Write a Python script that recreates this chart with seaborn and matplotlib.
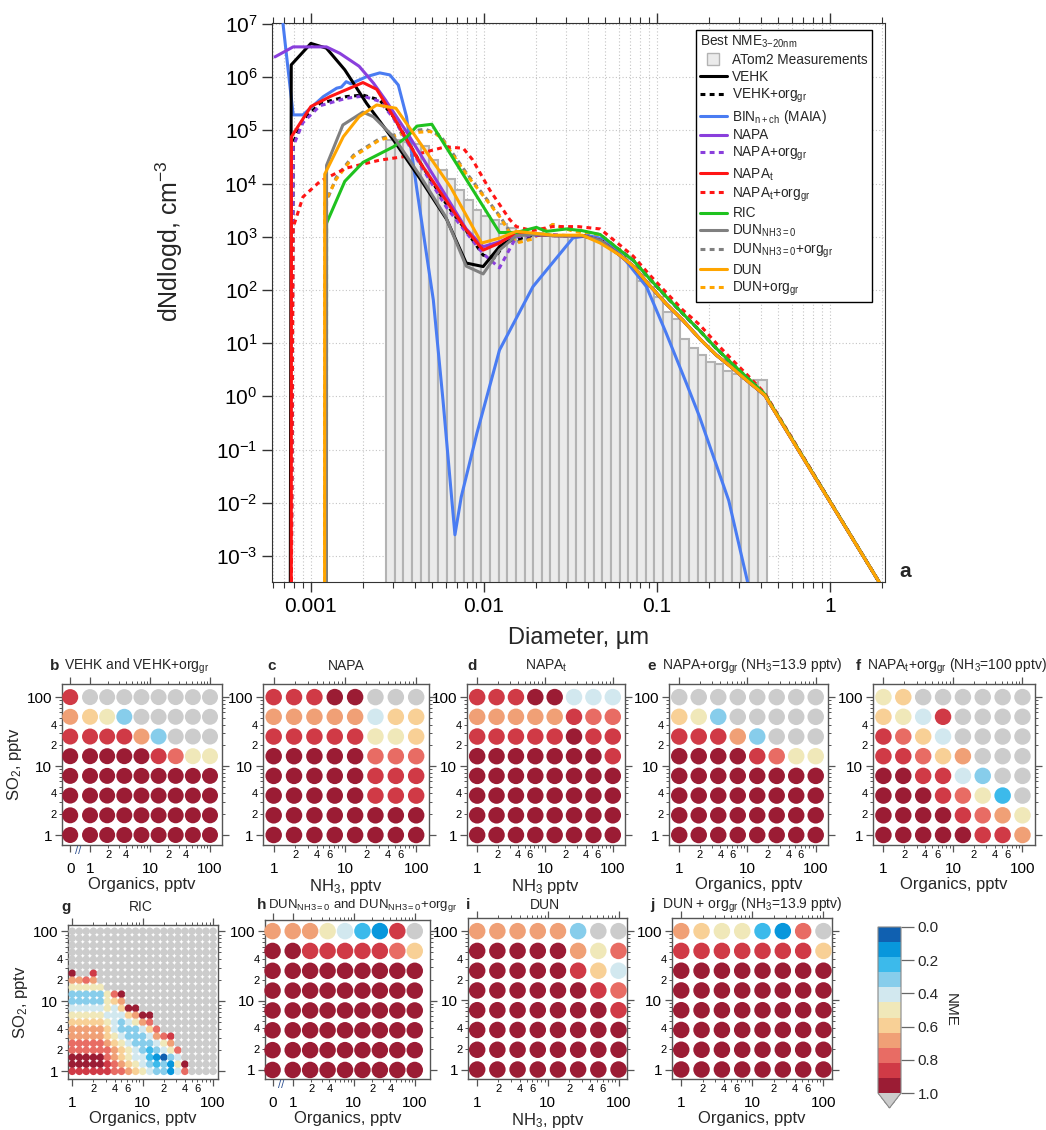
import numpy as np
import pandas as pd
import matplotlib
matplotlib.use("Agg")
import matplotlib.pyplot as plt
import seaborn as sns
from matplotlib.colors import ListedColormap, BoundaryNorm
from matplotlib.cm import ScalarMappable
from matplotlib.lines import Line2D
from matplotlib.ticker import LogLocator, NullLocator, NullFormatter
import matplotlib.transforms as mtransforms

sns.set_style("ticks")
plt.rcParams['font.family'] = ['Liberation Sans', 'DejaVu Sans']
plt.rcParams['mathtext.fontset'] = 'custom'
plt.rcParams['mathtext.rm'] = 'Liberation Sans'
plt.rcParams['mathtext.it'] = 'Liberation Sans'
plt.rcParams['mathtext.bf'] = 'Liberation Sans:bold'
plt.rcParams['mathtext.default'] = 'regular'

# ---------------- size distribution (panel a) ----------------
# ATom2 measured dN/dlogd, 44 bins of 0.05 decade starting at 2.72 nm
bin_lo = 0.00272
bin_step_dec = 0.05
atom2_dndlogd = [6.5e4, 6.5e4, 6e4, 5.5e4, 5e4, 2.8e4, 1.8e4, 1.2e4, 7.6e3, 4.9e3,
                 3.2e3, 2.5e3, 2.1e3, 1.7e3, 1.45e3, 1.3e3, 1.2e3, 1.15e3, 1.1e3, 1.05e3,
                 1e3, 1e3, 1e3, 950, 900, 800, 600, 420, 280, 150,
                 115, 75, 38, 28, 12, 8, 6, 4.5, 4, 3,
                 2.6, 2.1, 2, 2]

# shared accumulation-mode tails of the model curves
tail_d = [0.061, 0.073, 0.091, 0.113, 0.141, 0.177, 0.22, 0.27, 0.33, 0.42, 1.95]
tail_solid = [450, 280, 120, 55, 27, 12, 6.0, 3.5, 2.0, 1.05, 3.0e-4]
tail_dashed = [560, 360, 160, 75, 36, 17, 8.0, 4.2, 2.3, 1.1, 3.0e-4]
tail_red_dashed = [700, 430, 190, 90, 42, 22, 10, 5.0, 2.6, 1.15, 3.0e-4]

vehk_d = [0.00076, 0.00077, 0.001, 0.00123, 0.00157, 0.0021, 0.003, 0.0043, 0.0061, 0.0079,
          0.0099, 0.0123, 0.0154, 0.02, 0.025, 0.03, 0.037, 0.047]
vehk_v = [1e-4, 1.7e6, 4.3e6, 3.5e6, 1.37e6, 3.2e5, 6.6e4, 1.2e4, 2.1e3, 320,
          275, 650, 1.1e3, 1.1e3, 1.05e3, 1.05e3, 1.05e3, 850]

vehk_org_d = [0.00077, 0.00079, 0.0009, 0.00113, 0.0016, 0.002, 0.0025, 0.003, 0.0043, 0.0061,
              0.0079, 0.0099, 0.0115, 0.0135, 0.02, 0.025, 0.03, 0.037, 0.047]
vehk_org_v = [1e-4, 5.8e4, 1.6e5, 3.2e5, 4.3e5, 4.6e5, 3.7e5, 1.8e5, 2.4e4, 4e3,
              1.3e3, 450, 400, 800, 1.1e3, 1.05e3, 1.05e3, 1.05e3, 900]

bin_d = [0.00069, 0.00079, 0.0009, 0.00118, 0.00141, 0.0015, 0.0016, 0.0017, 0.0021, 0.0025,
         0.00286, 0.0032, 0.00357, 0.0041, 0.0051, 0.0058, 0.0065, 0.0068, 0.0074, 0.0091,
         0.0123, 0.0192, 0.0327, 0.04, 0.05, 0.061, 0.087, 0.113, 0.148, 0.176,
         0.26, 0.336]
bin_v = [1e7, 1.95e5, 1.95e5, 4.3e5, 6.2e5, 6.5e5, 8.2e5, 7.5e5, 1.02e6, 1.2e6,
         1.1e6, 7.1e5, 1.8e5, 7.6e3, 65, 0.85, 0.013, 2.5e-3, 0.013, 0.2,
         7.4, 115, 950, 1.05e3, 900, 490, 115, 15.5, 1.76, 0.42,
         0.011, 3e-4]

napa_d = [0.00062, 0.00079, 0.00123, 0.00147, 0.0019, 0.0023, 0.0027, 0.0036, 0.0056, 0.0079,
          0.0099, 0.0123, 0.0154, 0.02, 0.025, 0.03, 0.037, 0.047]
napa_v = [2.4e6, 3.7e6, 3.7e6, 2.8e6, 1.6e6, 7.7e5, 3.7e5, 9e4, 8.7e3, 1.4e3,
          650, 800, 1.1e3, 1.1e3, 1.05e3, 1.05e3, 1.05e3, 850]

napa_org_d = [0.00077, 0.00079, 0.0009, 0.00113, 0.0016, 0.002, 0.0025, 0.003, 0.0043, 0.0061,
              0.0079, 0.0099, 0.0123, 0.0154, 0.02, 0.025, 0.03, 0.037, 0.047]
napa_org_v = [1e-4, 5e4, 1.4e5, 2.9e5, 4e5, 4.4e5, 3.5e5, 1.7e5, 2.2e4, 3.5e3,
              1.2e3, 480, 260, 1e3, 1.05e3, 1.1e3, 1.05e3, 1.05e3, 900]

napat_d = [0.00077, 0.000772, 0.001, 0.00129, 0.002, 0.0024, 0.003, 0.0043, 0.0079, 0.0099,
           0.0123, 0.0154, 0.02, 0.025, 0.03, 0.037, 0.047]
napat_v = [1e-4, 7.6e4, 2.8e5, 4.3e5, 7.9e5, 5.9e5, 1.8e5, 2.4e4, 1.35e3, 560,
           760, 1.2e3, 1.1e3, 1.05e3, 1.05e3, 1.05e3, 850]

napat_org_d = [0.00077, 0.00079, 0.0009, 0.00113, 0.0016, 0.0025, 0.0039, 0.006, 0.0076, 0.0086,
               0.0108, 0.0141, 0.0154, 0.019, 0.025, 0.035, 0.047]
napat_org_v = [1e-4, 1.5e3, 5.6e3, 1.1e4, 1.95e4, 2.75e4, 3.4e4, 4.9e4, 4.6e4, 2.8e4,
               7.6e3, 2.1e3, 1.55e3, 1.3e3, 1.55e3, 1.55e3, 1.4e3]

ric_d = [0.00123, 0.001232, 0.00157, 0.002, 0.003, 0.0036, 0.0041, 0.005, 0.0123, 0.0154,
         0.0201, 0.0229, 0.03, 0.037, 0.047]
ric_v = [1e-4, 1.8e3, 1.1e4, 2.5e4, 4.9e4, 7.6e4, 1.2e5, 1.3e5, 1.2e3, 1.2e3,
         1.5e3, 1.26e3, 1.4e3, 1.3e3, 1.1e3]

dun0_d = [0.00123, 0.001232, 0.00153, 0.002, 0.0023, 0.003, 0.0043, 0.006, 0.0079, 0.0099,
          0.0123, 0.0154, 0.02, 0.025, 0.03, 0.037, 0.047]
dun0_v = [1e-4, 2.2e4, 1.26e5, 2.2e5, 1.8e5, 7.6e4, 1.36e4, 2.4e3, 280, 200,
          560, 1.05e3, 1.1e3, 1.05e3, 1.05e3, 1.05e3, 850]

dun0_org_d = [0.00123, 0.001232, 0.0014, 0.00176, 0.0025, 0.0036, 0.0046, 0.0056, 0.0079, 0.0123,
              0.0154, 0.019, 0.025, 0.033, 0.047]
dun0_org_v = [1e-4, 4.6e3, 1.3e4, 3.4e4, 7e4, 9.5e4, 1.05e5, 8e4, 1.6e4, 2.5e3,
              800, 950, 1.7e3, 1.3e3, 1.1e3]

dun_d = [0.0012, 0.001202, 0.00154, 0.0019, 0.0024, 0.0031, 0.0039, 0.0064, 0.0097, 0.0123,
         0.0154, 0.025, 0.037, 0.047]
dun_v = [1e-4, 1.5e4, 7.6e4, 1.8e5, 3e5, 2.6e5, 8.9e4, 8.7e3, 760, 940,
         1.26e3, 1.07e3, 1.07e3, 760]

dun_org_d = [0.0012, 0.001202, 0.0014, 0.00176, 0.0025, 0.0036, 0.0049, 0.0056, 0.0079, 0.0123,
             0.0154, 0.019, 0.025, 0.033, 0.047]
dun_org_v = [1e-4, 4.3e3, 1.2e4, 3.2e4, 6.6e4, 8.9e4, 9.5e4, 7.6e4, 1.5e4, 2.4e3,
             760, 900, 1.7e3, 1.26e3, 1.07e3]

# ---------------- NME scans (panels b-j) ----------------
# concentration levels of the scans (pptv)
scan_levels = [1, 1.93, 3.73, 7.2, 13.9, 26.8, 51.8, 100]
scan_levels_with_zero = [0, 1, 1.93, 3.73, 7.2, 13.9, 26.8, 51.8, 100]
ric_levels = [1, 1.26, 1.58, 2.0, 2.51, 3.16, 3.98, 5.01, 6.31, 7.94, 10,
              12.6, 15.8, 20, 25.1, 31.6, 39.8, 50.1, 63.1, 79.4, 100]

# NME class per cell: '0'..'9','A' = 11 bins from 0 to 1, '.' = NME > 1
nme_of_code = {'0': 0.045, '1': 0.136, '2': 0.227, '3': 0.318, '4': 0.409, '5': 0.5,
               '6': 0.591, '7': 0.682, '8': 0.773, '9': 0.864, 'A': 0.955, '.': 1.2}

# rows listed from SO2 = 100 (top) down to SO2 = 1
vehk_scan = ["9........", "7653.....", "999973...", "AAAAA9855",
             "AAAAAAAAA", "AAAAAAAAA", "AAAAAAAAA", "AAAAAAAAA"]
napa_scan = ["999AA...", "77777466", "99999556", "AAAAA888",
             "AAAAA999", "AAAAA999", "AAAAAAAA", "AAAAAAAA"]
napat_scan = ["999AA444", "77777988", "99999A99", "AAAAAAA9",
              "AAAAAAAA", "AAAAAAAA", "AAAAAAAA", "AAAAAAAA"]
napa_org_scan = ["........", "653.....", "99973...", "AAAA9855",
                 "AAAAAAAA", "AAAAAAAA", "AAAAAAAA", "AAAAAAAA"]
napat_org_scan = ["56......", "6549....", "9864....", "99867...",
                  "AA9943..", "AAA9852.", "AAAA9875", "AAAAA997"]
dun0_scan = ["77754219.", "AA9999986", "AAAAAAAAA", "AAAAAAAAA",
             "AAAAAAAAA", "AAAAAAAAA", "AAAAAAAAA", "AAAAAAAAA"]
dun_scan = ["777773..", "AAAAA758", "AAAAA964", "AAAAAA98",
            "AAAAAAA9", "AAAAAAAA", "AAAAAAAA", "AAAAAAAA"]
dun_org_scan = ["7655218.", "99999996", "AAAAAAAA", "AAAAAAAA",
                "AAAAAAAA", "AAAAAAAA", "AAAAAAAA", "AAAAAAAA"]
ric_scan = [
    "." * 21, "." * 21, "." * 21, "." * 21, "." * 21, "." * 21,
    "A..9" + "." * 17,
    "7787" + "." * 17,
    "55555" + "." * 16,
    "33333" + "58A" + "." * 13,
    "33333" + "567" + "." * 13,
    "44444" + "546AA" + "." * 11,
    "55555" + "44467AA" + "." * 9,
    "66666" + "5434578" + "." * 9,
    "77777" + "64333468" + "." * 8,
    "77777" + "6543334789" + "." * 6,
    "88888" + "7654333457" + "." * 6,
    "88888" + "87654323458" + "." * 5,
    "AAAAA" + "87654421034" + "." * 5,
    "AAAAA" + "98765432315A" + "." * 4,
    "99999" + "988765433148" + "." * 4,
]

nme_colors = ['#1060b0', '#0897dc', '#3cbaeb', '#87cdeb', '#d2e8ef', '#f0e8b9',
              '#f8d096', '#f0a076', '#e86c64', '#d03a46', '#9b1c34']
over_color = '#cccccc'

# ---------------- figure ----------------
W, H = 1046, 1130
fig = plt.figure(figsize=(W / 100, H / 100), dpi=100)


def px_axes(x0, y0, x1, y1):
    return fig.add_axes([x0 / W, 1 - y1 / H, (x1 - x0) / W, (y1 - y0) / H])


def ftext(x, y, s, **kw):
    kw.setdefault('va', 'center')
    return fig.text(x / W, 1 - y / H, s, **kw)


# ---- panel a ----
ax = px_axes(272, 23, 885, 582)
ax.set_xscale('log')
ax.set_yscale('log')
ax.set_axisbelow(True)
ax.grid(True, which='both', axis='x', linestyle=(0, (1, 2)), color='#c4c4c4', linewidth=0.8)
ax.grid(True, which='major', axis='y', linestyle=(0, (1, 2)), color='#c4c4c4', linewidth=0.8)

edges = bin_lo * 10 ** (bin_step_dec * np.arange(len(atom2_dndlogd) + 1))
ax.bar(edges[:-1], atom2_dndlogd, width=np.diff(edges), align='edge', bottom=1e-5,
       color='#ebebeb', edgecolor='#b3b3b3', linewidth=1.5, zorder=1.5)

dash = (0, (1.6, 1.4))
models = [
    ("VEHK", vehk_d, vehk_v, tail_d, tail_solid, '#000000', '-'),
    ("VEHK+org$_{gr}$", vehk_org_d, vehk_org_v, tail_d, tail_dashed, '#000000', dash),
    ("BIN$_{n+ch}$ (MAIA)", bin_d, bin_v, [], [], '#4a7cf2', '-'),
    ("NAPA", napa_d, napa_v, tail_d, tail_solid, '#8a3fdc', '-'),
    ("NAPA+org$_{gr}$", napa_org_d, napa_org_v, tail_d, tail_dashed, '#8a3fdc', dash),
    ("NAPA$_t$", napat_d, napat_v, tail_d, tail_solid, '#ff1515', '-'),
    ("NAPA$_t$+org$_{gr}$", napat_org_d, napat_org_v, tail_d, tail_red_dashed, '#ff1515', dash),
    ("RIC", ric_d, ric_v, tail_d, tail_dashed, '#1fc21f', '-'),
    ("DUN$_{NH3{=}0}$", dun0_d, dun0_v, tail_d, tail_solid, '#808080', '-'),
    ("DUN$_{NH3{=}0}$+org$_{gr}$", dun0_org_d, dun0_org_v, tail_d, tail_dashed, '#808080', dash),
    ("DUN", dun_d, dun_v, tail_d, tail_solid, '#ffa500', '-'),
    ("DUN+org$_{gr}$", dun_org_d, dun_org_v, tail_d, tail_dashed, '#ffa500', dash),
]

draw_order = [9, 11, 1, 4, 6, 2, 0, 3, 5, 7, 8, 10]
for k, idx in enumerate(draw_order):
    label, d, v, td, tv, color, ls = models[idx]
    line = pd.DataFrame({'d': list(d) + list(td), 'v': list(v) + list(tv)})
    sns.lineplot(data=line, x='d', y='v', ax=ax, color=color, linewidth=2.2,
                 linestyle=ls, estimator=None, sort=False, legend=False, zorder=3 + 0.01 * k)

ax.set_xlim(5.96e-4, 2.08)
ax.set_ylim(3.24e-4, 1.04e7)
ax.set_xticks([1e-3, 1e-2, 1e-1, 1])
ax.set_xticklabels(['0.001', '0.01', '0.1', '1'])
ax.xaxis.set_minor_locator(LogLocator(base=10, subs=np.arange(2, 10), numticks=20))
ax.xaxis.set_minor_formatter(NullFormatter())
ax.yaxis.set_major_locator(LogLocator(base=10, numticks=20))
ax.yaxis.set_minor_locator(NullLocator())
ax.tick_params(which='both', direction='out', top=True, bottom=True, left=True, right=False,
               colors='#333333', labelcolor='black')
ax.tick_params(which='major', length=7, width=1, labelsize=15)
ax.tick_params(which='minor', length=4, width=0.8)
for sp in ax.spines.values():
    sp.set_color('#333333')
ax.set_xlabel('Diameter, µm', fontsize=17, labelpad=8)
ax.set_ylabel('dNdlogd, cm$^{-3}$', fontsize=18)
ax.yaxis.set_label_coords(-0.142, 0.61)
ax.text(1.033, 0.018, 'a', transform=ax.transAxes, fontsize=15, fontweight='bold',
        ha='center', va='center')

handles = [Line2D([], [], marker='s', markersize=9, markerfacecolor='#ebebeb',
                  markeredgecolor='#b3b3b3', linestyle='none')]
labels = ['ATom2 Measurements']
for label, d, v, td, tv, color, ls in models:
    handles.append(Line2D([], [], color=color, linewidth=2.2, linestyle=ls))
    labels.append(label)
leg = ax.legend(handles, labels, loc='upper right', bbox_to_anchor=(0.979, 0.9875),
                fontsize=9.8, title='Best NME$_{3{-}20nm}$', title_fontsize=9.8,
                alignment='left', frameon=True, fancybox=False, edgecolor='black',
                framealpha=1, borderpad=0.3, labelspacing=0.2, handlelength=2.0,
                handletextpad=0.4, borderaxespad=0)
leg.get_frame().set_linewidth(1.0)
leg.set_zorder(10)


# ---- NME scan panels ----
def nme_hex(v):
    if v > 1.0:
        return over_color
    return nme_colors[min(int(v * 11), 10)]


def draw_scan(ax, rows, xvals, yvals, dot_px, zero_pos=-0.33):
    recs = []
    for i, row in enumerate(rows):
        yv = yvals[::-1][i]
        for j, ch in enumerate(row):
            xv = xvals[j]
            recs.append((np.log10(xv) if xv > 0 else zero_pos, np.log10(yv), nme_of_code[ch]))
    df = pd.DataFrame(recs, columns=['xp', 'yp', 'nme'])
    df['color'] = df['nme'].map(nme_hex)
    pal = {c: c for c in df['color'].unique()}
    s = (dot_px * 0.72) ** 2
    sns.scatterplot(data=df, x='xp', y='yp', hue='color', palette=pal, s=s, linewidth=0,
                    legend=False, ax=ax, clip_on=False, zorder=3)


lg = np.log10


def style_scan(ax, xlim, ylim, xlabel, ylabel=None, zero=False, x_six=True):
    ax.set_xlim(*xlim)
    ax.set_ylim(*ylim)
    if zero:
        ax.set_xticks([-0.33, 0, 1, 2])
        ax.set_xticklabels(['0', '1', '10', '100'])
    else:
        ax.set_xticks([0, 1, 2])
        ax.set_xticklabels(['1', '10', '100'])
    xs_lab = [2, 4, 6] if x_six else [2, 4]
    xm = []
    xml = []
    for dec in (1, 10):
        for m in range(2, 10):
            xm.append(lg(m * dec))
            xml.append(str(m) if m in xs_lab else '')
    ax.set_xticks(xm, minor=True)
    ax.set_xticklabels(xml, minor=True)
    ax.set_yticks([0, 1, 2])
    ax.set_yticklabels(['1', '10', '100'])
    ym = []
    yml = []
    for dec in (1, 10):
        for m in range(2, 10):
            ym.append(lg(m * dec))
            yml.append(str(m) if m in (2, 4) else '')
    ax.set_yticks(ym, minor=True)
    ax.set_yticklabels(yml, minor=True)
    ax.tick_params(which='both', direction='out', top=True, right=True, bottom=True, left=True,
                   colors='#555555', labelcolor='black')
    ax.tick_params(which='major', length=5, width=0.9, labelsize=11)
    ax.tick_params(which='minor', length=2.5, width=0.7, labelsize=8)
    ax.tick_params(axis='x', which='major', pad=7)
    ax.tick_params(axis='x', which='minor', pad=1)
    ax.tick_params(axis='y', which='major', pad=2)
    ax.tick_params(axis='y', which='minor', pad=1)
    for sp in ax.spines.values():
        sp.set_color('#555555')
        sp.set_linewidth(1.0)
    ax.set_xlabel(xlabel, fontsize=12, labelpad=1)
    if ylabel:
        ax.set_ylabel(ylabel, fontsize=12, labelpad=2)
    else:
        ax.set_ylabel('')
    if zero:
        tr = mtransforms.blended_transform_factory(ax.transData, ax.transAxes)
        ax.text(-0.19, -0.035, '//', transform=tr, fontsize=8, color='#2a4d8f',
                ha='center', va='center', clip_on=False)


top_y = (-0.145, 2.19)
wide_x = (-0.15, 2.18)

ax_b = px_axes(62, 684, 222, 845)
draw_scan(ax_b, vehk_scan, scan_levels_with_zero, scan_levels, 16)
style_scan(ax_b, (-0.467, 2.2), top_y, 'Organics, pptv', 'SO$_2$, pptv', zero=True, x_six=False)

ax_c = px_axes(263, 684, 429, 845)
draw_scan(ax_c, napa_scan, scan_levels, scan_levels, 16.5)
style_scan(ax_c, wide_x, top_y, 'NH$_3$, pptv')

ax_d = px_axes(467, 684, 625, 845)
draw_scan(ax_d, napat_scan, scan_levels, scan_levels, 16.5)
style_scan(ax_d, wide_x, top_y, 'NH$_3$ pptv')

ax_e = px_axes(669, 684, 828, 845)
draw_scan(ax_e, napa_org_scan, scan_levels, scan_levels, 16.5)
style_scan(ax_e, wide_x, top_y, 'Organics, pptv')

ax_f = px_axes(873, 684, 1035, 845)
draw_scan(ax_f, napat_org_scan, scan_levels, scan_levels, 16.5)
style_scan(ax_f, wide_x, top_y, 'Organics, pptv')

ax_g = px_axes(68, 925, 218, 1079)
draw_scan(ax_g, ric_scan, ric_levels, ric_levels, 7.6)
style_scan(ax_g, (-0.06, 2.07), (-0.11, 2.09), 'Organics, pptv', 'SO$_2$, pptv')

ax_h = px_axes(265, 920, 430, 1079)
draw_scan(ax_h, dun0_scan, scan_levels_with_zero, scan_levels, 16.5)
style_scan(ax_h, (-0.454, 2.25), (-0.13, 2.16), 'Organics, pptv', zero=True, x_six=False)

bot_y = (-0.137, 2.19)
ax_i = px_axes(468, 918, 627, 1079)
draw_scan(ax_i, dun_scan, scan_levels, scan_levels, 16.5)
style_scan(ax_i, (-0.13, 2.12), bot_y, 'NH$_3$, pptv')

ax_j = px_axes(672, 918, 832, 1079)
draw_scan(ax_j, dun_org_scan, scan_levels, scan_levels, 16.5)
style_scan(ax_j, (-0.13, 2.12), bot_y, 'Organics, pptv')

# panel titles
tk = dict(fontsize=10)
bk = dict(fontsize=11, fontweight='bold', ha='center')
ftext(55, 666, 'b', **bk)
ftext(64, 666, 'VEHK and VEHK+org$_{gr}$', ha='left', **tk)
ftext(272, 666, 'c', **bk)
ftext(346, 666, 'NAPA', ha='center', **tk)
ftext(472, 666, 'd', **bk)
ftext(546, 666, 'NAPA$_t$', ha='center', **tk)
ftext(652, 666, 'e', **bk)
ftext(662, 666, 'NAPA+org$_{gr}$ (NH$_3$=13.9 pptv)', ha='left', **tk)
ftext(858, 666, 'f', **bk)
ftext(867, 666, 'NAPA$_t$+org$_{gr}$ (NH$_3$=100 pptv)', ha='left', **tk)
ftext(66, 907, 'g', **bk)
ftext(141, 907, 'RIC', ha='center', **tk)
ftext(262, 905, 'h', **bk)
ftext(268, 905, 'DUN$_{NH3{=}0}$ and DUN$_{NH3{=}0}$+org$_{gr}$', ha='left', fontsize=9.5)
ftext(468, 905, 'i', **bk)
ftext(545, 905, 'DUN', ha='center', **tk)
ftext(652, 905, 'j', **bk)
ftext(662, 905, 'DUN + org$_{gr}$ (NH$_3$=13.9 pptv)', ha='left', **tk)

# colorbar
cmap = ListedColormap(nme_colors)
cmap.set_over(over_color)
norm = BoundaryNorm(np.linspace(0, 1, 12), cmap.N)
cax = px_axes(878, 927, 901, 1108)
cb = fig.colorbar(ScalarMappable(norm=norm, cmap=cmap), cax=cax, extend='max',
                  extendfrac=0.09, ticks=[0, 0.2, 0.4, 0.6, 0.8, 1.0], drawedges=False)
cax.invert_yaxis()
cb.set_ticklabels(['0.0', '0.2', '0.4', '0.6', '0.8', '1.0'])
cb.outline.set_edgecolor('#888888')
cb.outline.set_linewidth(0.8)
cax.tick_params(labelsize=11, length=9, width=0.9, color='#666666', pad=3)
cax.minorticks_off()
cb.set_label('NME', rotation=-90, fontsize=11, labelpad=14)

fig.savefig('out.png', dpi=100)
